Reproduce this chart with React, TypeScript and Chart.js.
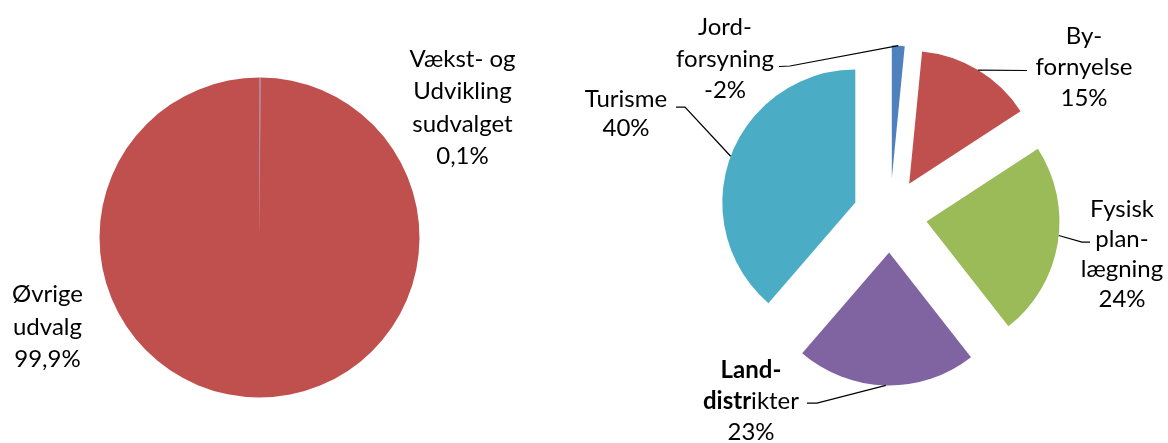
import React, { useEffect, useRef } from "react";
import { Chart, registerables } from "chart.js";

Chart.register(...registerables);

// ---------- Data: left pie ----------
const leftCategories = ["Vækst- og Udvikling sudvalget", "Øvrige udvalg"];
const leftValues = [0.1, 99.9];
const leftLabelLines = [["Vækst- og", "Udvikling", "sudvalget"], ["Øvrige", "udvalg"]];
const leftColors = ["#4F81BD", "#C0504D"];

// ---------- Data: right pie ----------
const rightCategories = ["Jordforsyning", "Byfornyelse", "Fysisk planlægning", "Landdistrikter", "Turisme"];
const rightValues = [-1.6, 14.7, 24.4, 22.6, 39.9];
const rightLabelLines = [
  ["Jord-", "forsyning"],
  ["By-", "fornyelse"],
  ["Fysisk", "plan-", "lægning"],
  ["**Land-**", "**distr**ikter"],
  ["Turisme"],
];
const rightColors = ["#4F81BD", "#C0504D", "#9BBB59", "#8064A2", "#4BACC6"];

// ---------- Styles (positions relative to pie centre) ----------
type LabelStyle = { dx: number; dy: number; lh: number; leader?: number[][]; t?: number };

const FONT_FAMILY = "Lato, 'Open Sans', sans-serif";
const FONT_SIZE = 24;

const leftStyles: LabelStyle[] = [
  { dx: 203, dy: -171, lh: 32.5 },
  { dx: -212, dy: 64.5, lh: 32.5 },
];
const rightStyles: LabelStyle[] = [
  { dx: -165, dy: -180.5, lh: 31.5, leader: [[-111, -149], [-100, -149.5]], t: 0.5 },
  { dx: 194, dy: -171.5, lh: 31, leader: [[137, -145]], t: 0.5 },
  { dx: 232, dy: 1.2, lh: 30, leader: [[200, 26.5], [192, 26.5]], t: 0.46 },
  { dx: -139, dy: 162.5, lh: 31, leader: [[-83, 187.5], [-73, 187.5]], t: 0.5 },
  { dx: -264, dy: -108.5, lh: 29, leader: [[-214, -108.5], [-205, -108.5]], t: 0.5 },
];
const rightExplode = [37, 37, 37, 37, 37];

function parseSegments(line: string) {
  const parts = line.split("**");
  return parts.map((text, i) => ({ text, bold: i % 2 === 1 })).filter((s) => s.text.length > 0);
}

function explodePlugin(explode: number[]) {
  return {
    id: "explodeSlices",
    beforeDatasetDraw(chart: any, args: any) {
      const meta = chart.getDatasetMeta(args.index);
      const ctx = chart.ctx;
      ctx.save();
      meta.data.forEach((el: any, i: number) => {
        const mid = (el.startAngle + el.endAngle) / 2;
        const ex = explode[i] || 0;
        const x = el.x + ex * Math.cos(mid);
        const y = el.y + ex * Math.sin(mid);
        ctx.beginPath();
        ctx.moveTo(x, y);
        ctx.arc(x, y, el.outerRadius, el.startAngle, el.endAngle);
        ctx.closePath();
        ctx.fillStyle = el.options.backgroundColor;
        ctx.fill();
      });
      ctx.restore();
      return false;
    },
  };
}

function labelPlugin(lines: string[][], values: number[], decimals: number, styles: LabelStyle[], explode: number[]) {
  return {
    id: "sliceLabels",
    afterDatasetsDraw(chart: any) {
      const ctx = chart.ctx;
      const meta = chart.getDatasetMeta(0);
      const total = values.reduce((a, b) => a + b, 0);
      const cx = (chart.chartArea.left + chart.chartArea.right) / 2;
      const cy = (chart.chartArea.top + chart.chartArea.bottom) / 2;
      ctx.save();
      meta.data.forEach((el: any, i: number) => {
        const st = styles[i];
        const pct = ((values[i] / total) * 100).toFixed(decimals).replace(".", ",") + "%";
        const allLines = [...lines[i], pct];
        if (st.leader) {
          const mid = (el.startAngle + el.endAngle) / 2;
          const ex = explode[i] || 0;
          const a = el.startAngle + (st.t ?? 0.5) * (el.endAngle - el.startAngle);
          const px = el.x + ex * Math.cos(mid) + el.outerRadius * Math.cos(a);
          const py = el.y + ex * Math.sin(mid) + el.outerRadius * Math.sin(a);
          ctx.beginPath();
          st.leader.forEach(([lx, ly], k) => {
            if (k === 0) ctx.moveTo(cx + lx, cy + ly);
            else ctx.lineTo(cx + lx, cy + ly);
          });
          ctx.lineTo(px, py);
          ctx.strokeStyle = "#000000";
          ctx.lineWidth = 1.25;
          ctx.stroke();
        }
        ctx.fillStyle = "#000000";
        ctx.textBaseline = "alphabetic";
        ctx.textAlign = "left";
        allLines.forEach((line, k) => {
          const segs = parseSegments(line);
          let w = 0;
          const widths = segs.map((s) => {
            ctx.font = `${s.bold ? "bold " : ""}${FONT_SIZE}px ${FONT_FAMILY}`;
            const mw = ctx.measureText(s.text).width;
            w += mw;
            return mw;
          });
          let x = cx + st.dx - w / 2;
          const y = cy + st.dy + k * st.lh;
          segs.forEach((s, j) => {
            ctx.font = `${s.bold ? "bold " : ""}${FONT_SIZE}px ${FONT_FAMILY}`;
            ctx.fillText(s.text, x, y);
            x += widths[j];
          });
        });
      });
      ctx.restore();
    },
  };
}

type PieProps = {
  categories: string[];
  values: number[];
  colors: string[];
  lines: string[][];
  styles: LabelStyle[];
  explode: number[];
  decimals: number;
  padding: { left: number; right: number; top: number; bottom: number };
  radius: number;
};

function PieCanvas(props: PieProps) {
  const ref = useRef<HTMLCanvasElement>(null);
  useEffect(() => {
    const plugins: any[] = [];
    if (props.explode.some((e) => e > 0)) plugins.push(explodePlugin(props.explode));
    plugins.push(labelPlugin(props.lines, props.values, props.decimals, props.styles, props.explode));
    const chart = new Chart(ref.current as HTMLCanvasElement, {
      type: "pie",
      data: {
        labels: props.categories,
        datasets: [{ data: props.values, backgroundColor: props.colors, borderWidth: 0 }],
      },
      options: {
        responsive: false,
        animation: false,
        radius: props.radius,
        events: [],
        layout: { padding: props.padding },
        plugins: { legend: { display: false }, tooltip: { enabled: false } },
      } as any,
      plugins,
    });
    return () => chart.destroy();
  }, []);
  return (
    <canvas
      ref={ref}
      width={1168}
      height={443}
      style={{ position: "absolute", left: 0, top: 0, width: 1168, height: 443 }}
    />
  );
}

export default function App() {
  return (
    <div style={{ position: "absolute", left: 0, top: 0, width: 1168, height: 443, background: "#ffffff" }}>
      <PieCanvas
        categories={leftCategories}
        values={leftValues}
        colors={leftColors}
        lines={leftLabelLines}
        styles={leftStyles}
        explode={[0, 0]}
        decimals={1}
        padding={{ left: 0, right: 649, top: 32, bottom: 0 }}
        radius={160}
      />
      <PieCanvas
        categories={rightCategories}
        values={rightValues}
        colors={rightColors}
        lines={rightLabelLines}
        styles={rightStyles}
        explode={rightExplode}
        decimals={0}
        padding={{ left: 612, right: 0, top: 0, bottom: 12 }}
        radius={133}
      />
    </div>
  );
}
